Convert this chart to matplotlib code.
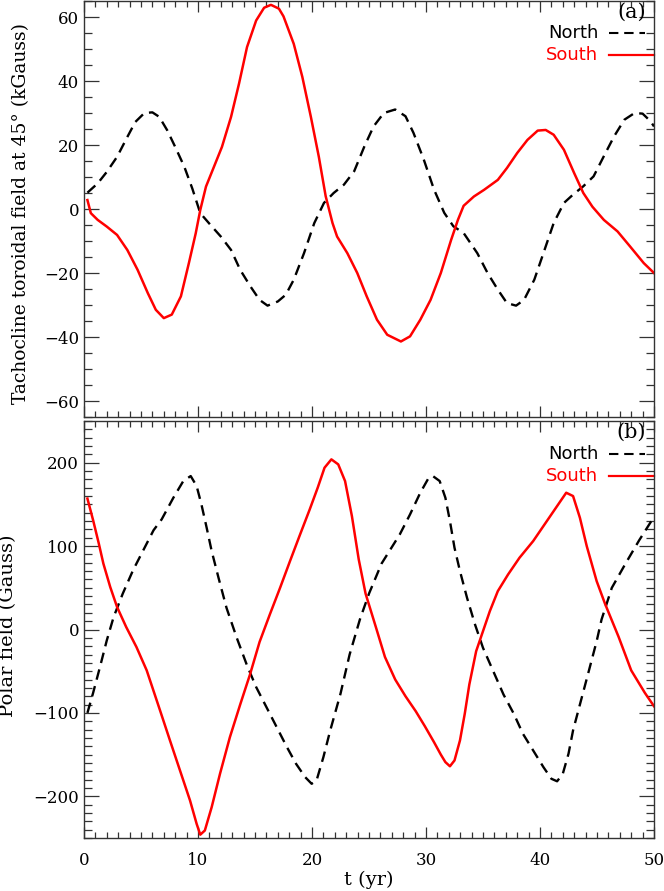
import matplotlib
matplotlib.use("Agg")
import matplotlib.pyplot as plt
from matplotlib.ticker import MultipleLocator

# ---------------- data ----------------
# Panel (a): tachocline toroidal field at 45 deg (kGauss)
t_tor_north = [0.3, 1.2, 2.0, 2.9, 3.8, 4.5, 5.3, 6.0, 6.6, 7.3, 8.0, 8.8, 9.5, 10.2,
               11.1, 12.0, 12.9, 13.7, 14.6, 15.4, 16.1, 17.0, 17.7, 18.4, 19.3, 20.2,
               21.05, 21.9, 22.8, 23.7, 24.6, 25.4, 26.3, 27.3, 28.2, 28.9, 29.8, 30.7,
               31.6, 32.4, 33.3, 34.5, 35.4, 36.3, 37.1, 37.9, 38.6, 39.5, 40.3, 41.2,
               42.1, 42.9, 43.8, 44.7, 45.6, 46.5, 47.4, 48.3, 49.0, 49.7, 50.0]
tor_north = [5.1, 8.0, 11.6, 16.3, 22.5, 27.2, 30.0, 30.2, 28.8, 24.6, 19.4, 13.2, 6.4,
             -1.3, -5.0, -8.6, -12.8, -19.0, -24.2, -28.4, -30.2, -28.9, -26.8, -22.1,
             -13.8, -4.4, 1.9, 5.0, 7.6, 11.8, 19.6, 25.8, 30.0, 31.1, 29.0, 23.8, 15.5,
             6.1, -1.2, -5.4, -7.5, -13.8, -20.0, -25.2, -29.4, -30.2, -28.4, -22.1,
             -13.8, -4.4, 1.9, 4.5, 7.1, 10.2, 16.5, 22.7, 27.9, 30.0, 29.8, 27.4, 25.8]

t_tor_south = [0.3, 0.6, 1.2, 2.0, 2.9, 3.8, 4.7, 5.6, 6.3, 7.0, 7.7, 8.5, 9.2, 9.8, 10.2,
               10.7, 11.4, 12.1, 12.9, 13.6, 14.3, 15.1, 15.8, 16.4, 17.1, 17.5, 18.4,
               19.15, 19.9, 20.6, 21.2, 21.8, 22.2, 23.1, 23.97, 24.8, 25.7, 26.6, 27.8,
               28.6, 29.5, 30.4, 31.3, 32.2, 32.8, 33.3, 34.2, 35.1, 36.3, 37.1, 38.0,
               38.9, 39.8, 40.5, 41.2, 42.1, 43.0, 43.8, 44.6, 45.6, 46.8, 47.9, 49.1,
               50.0]
tor_south = [2.8, -1.3, -3.4, -5.5, -8.1, -12.8, -19.0, -26.3, -31.5, -34.1, -33.0, -27.3,
             -16.9, -7.6, -0.3, 7.0, 13.2, 19.4, 28.8, 39.2, 50.6, 58.9, 62.9, 63.8, 62.6,
             60.2, 51.6, 41.3, 28.8, 16.3, 4.0, -4.4, -8.6, -13.8, -20.0, -27.3, -34.6,
             -39.3, -41.4, -39.8, -34.6, -28.4, -20.0, -9.7, -3.4, 1.0, 3.9, 6.0, 9.1,
             12.8, 17.5, 21.6, 24.5, 24.7, 23.2, 18.5, 11.2, 5.0, 0.7, -3.4, -7.0,
             -11.7, -16.9, -20.0]

# Panel (b): polar field (Gauss)
t_pol_north = [0.3, 0.8, 1.4, 2.0, 2.6, 3.4, 4.3, 5.2, 6.1, 6.81, 7.84, 8.71, 9.36, 9.88,
               10.3, 10.76, 11.2, 11.8, 12.5, 13.4, 14.27, 15.1, 16.0, 16.9, 17.8, 18.6,
               19.4, 19.97, 20.4, 21.0, 21.6, 22.5, 23.3, 24.2, 25.0, 26.1, 27.7, 28.6,
               29.5, 30.2, 30.6, 31.2, 31.7, 32.1, 32.5, 32.98, 33.6, 34.3, 35.0, 35.9,
               36.8, 37.7, 38.5, 39.4, 40.3, 41.0, 41.5, 42.0, 42.5, 42.9, 43.5, 44.2,
               44.97, 45.4, 46.3, 47.5, 48.7, 50.0]
pol_north = [-100, -76, -45, -13, 15, 43, 71, 95, 119, 132, 158, 178, 184, 172, 150, 122,
             94, 62, 26, -10, -42, -69, -93, -117, -141, -161, -177, -185, -181, -153,
             -121, -77, -30, 12, 43, 79, 114, 138, 164, 181, 184, 178, 158, 130, 98, 70,
             38, 6, -22, -50, -78, -101, -125, -145, -165, -179, -182, -173, -149, -121,
             -90, -54, -14, 12, 50, 79, 107, 135]

t_pol_south = [0.3, 0.8, 1.3, 1.7, 2.3, 2.9, 3.7, 4.6, 5.5, 6.67, 7.54, 8.42, 9.3, 9.88,
               10.2, 10.6, 11.2, 11.93, 12.8, 13.7, 14.56, 15.4, 16.3, 17.2, 18.07, 18.9,
               19.8, 20.5, 21.1, 21.7, 22.3, 22.9, 23.5, 24.1, 24.7, 25.6, 26.4, 27.3,
               28.2, 29.1, 29.9, 30.7, 31.3, 31.7, 32.1, 32.5, 32.98, 33.4, 33.8, 34.4,
               35.0, 35.6, 36.3, 37.2, 38.2, 39.4, 40.6, 41.6, 42.3, 42.9, 43.5, 44.1,
               44.97, 45.7, 46.9, 48.0, 49.2, 50.0]
pol_south = [157, 131, 103, 79, 51, 27, 3, -21, -49, -97, -133, -169, -205, -233, -246,
             -241, -213, -173, -129, -90, -54, -15, 18, 50, 82, 112, 144, 170, 194, 204,
             198, 178, 136, 84, 43, 3, -33, -60, -80, -98, -116, -135, -150, -159, -164,
             -157, -133, -101, -66, -26, -2, 22, 46, 66, 86, 106, 130, 150, 164, 160,
             134, 100, 58, 31, -9, -49, -76, -92]

tor_ticks = [-60, -40, -20, 0, 20, 40, 60]
pol_ticks = [-200, -100, 0, 100, 200]
x_ticks = [0, 10, 20, 30, 40, 50]

# ---------------- figure ----------------
W, H = 664, 891
fig = plt.figure(figsize=(W / 100, H / 100), dpi=100)

def ax_rect(l, r, top, bot):
    return [l / W, 1 - bot / H, (r - l) / W, (bot - top) / H]

ax1 = fig.add_axes(ax_rect(84, 654, 1, 417))
ax2 = fig.add_axes(ax_rect(84, 654, 421, 838))

serif = "DejaVu Serif"
sans = "DejaVu Sans"
red = "#ff0000"
dash = (0, (4.5, 2.8))

ax1.plot(t_tor_north, tor_north, color="black", lw=1.7, ls=dash)
ax1.plot(t_tor_south, tor_south, color=red, lw=1.8)
ax2.plot(t_pol_north, pol_north, color="black", lw=1.7, ls=dash)
ax2.plot(t_pol_south, pol_south, color=red, lw=1.8)

ax1.set_ylim(-65, 65)
ax2.set_ylim(-250, 250)

for ax, yt, ymin in ((ax1, tor_ticks, 5), (ax2, pol_ticks, 10)):
    ax.set_xlim(0, 50)
    ax.set_xticks(x_ticks)
    ax.set_yticks(yt)
    ax.set_yticklabels([str(v).replace("-", "\u2212") for v in yt])
    ax.xaxis.set_minor_locator(MultipleLocator(1))
    ax.yaxis.set_minor_locator(MultipleLocator(ymin))
    ax.tick_params(which="both", direction="in", top=True, right=True,
                   color="#333333", width=0.9, labelsize=12)
    ax.tick_params(axis="y", which="major", length=11)
    ax.tick_params(axis="y", which="minor", length=5.5)
    ax.tick_params(axis="x", which="major", length=8)
    ax.tick_params(axis="x", which="minor", length=4)
    for sp in ax.spines.values():
        sp.set_linewidth(1.0)
        sp.set_color("#333333")
    for lab in ax.get_xticklabels() + ax.get_yticklabels():
        lab.set_family(serif)

ax1.tick_params(axis="x", labelbottom=False)
ax2.tick_params(axis="x", which="major", pad=10)

ax1.set_ylabel("Tachocline toroidal field at 45\u00b0 (kGauss)", fontsize=13.5,
               family=serif)
ax2.set_ylabel("Polar field (Gauss)", fontsize=14, family=serif)
ax2.set_xlabel("t (yr)", fontsize=14, family=serif, labelpad=1)
ax1.yaxis.set_label_coords(-0.095, 0.49)
ax2.yaxis.set_label_coords(-0.118, 0.51)

# legends / panel labels
def legend(ax, lab, y_lab, y_n, y_s):
    ax.text(0.96, y_lab, lab, transform=ax.transAxes, ha="center", va="center",
            fontsize=15, family=serif)
    ax.text(0.902, y_n, "North", transform=ax.transAxes, ha="right", va="center",
            fontsize=13, family=sans)
    ax.text(0.902, y_s, "South", transform=ax.transAxes, ha="right", va="center",
            fontsize=13, family=sans, color=red)
    ax.plot([0.921, 0.985], [y_n, y_n], transform=ax.transAxes, color="black",
            lw=1.5, ls=dash, clip_on=False)
    ax.plot([0.921, 1.0], [y_s, y_s], transform=ax.transAxes, color=red, lw=1.6,
            clip_on=False)

legend(ax1, "(a)", 0.973, 0.923, 0.869)
legend(ax2, "(b)", 0.974, 0.920, 0.868)

fig.savefig("out.png", dpi=100)
